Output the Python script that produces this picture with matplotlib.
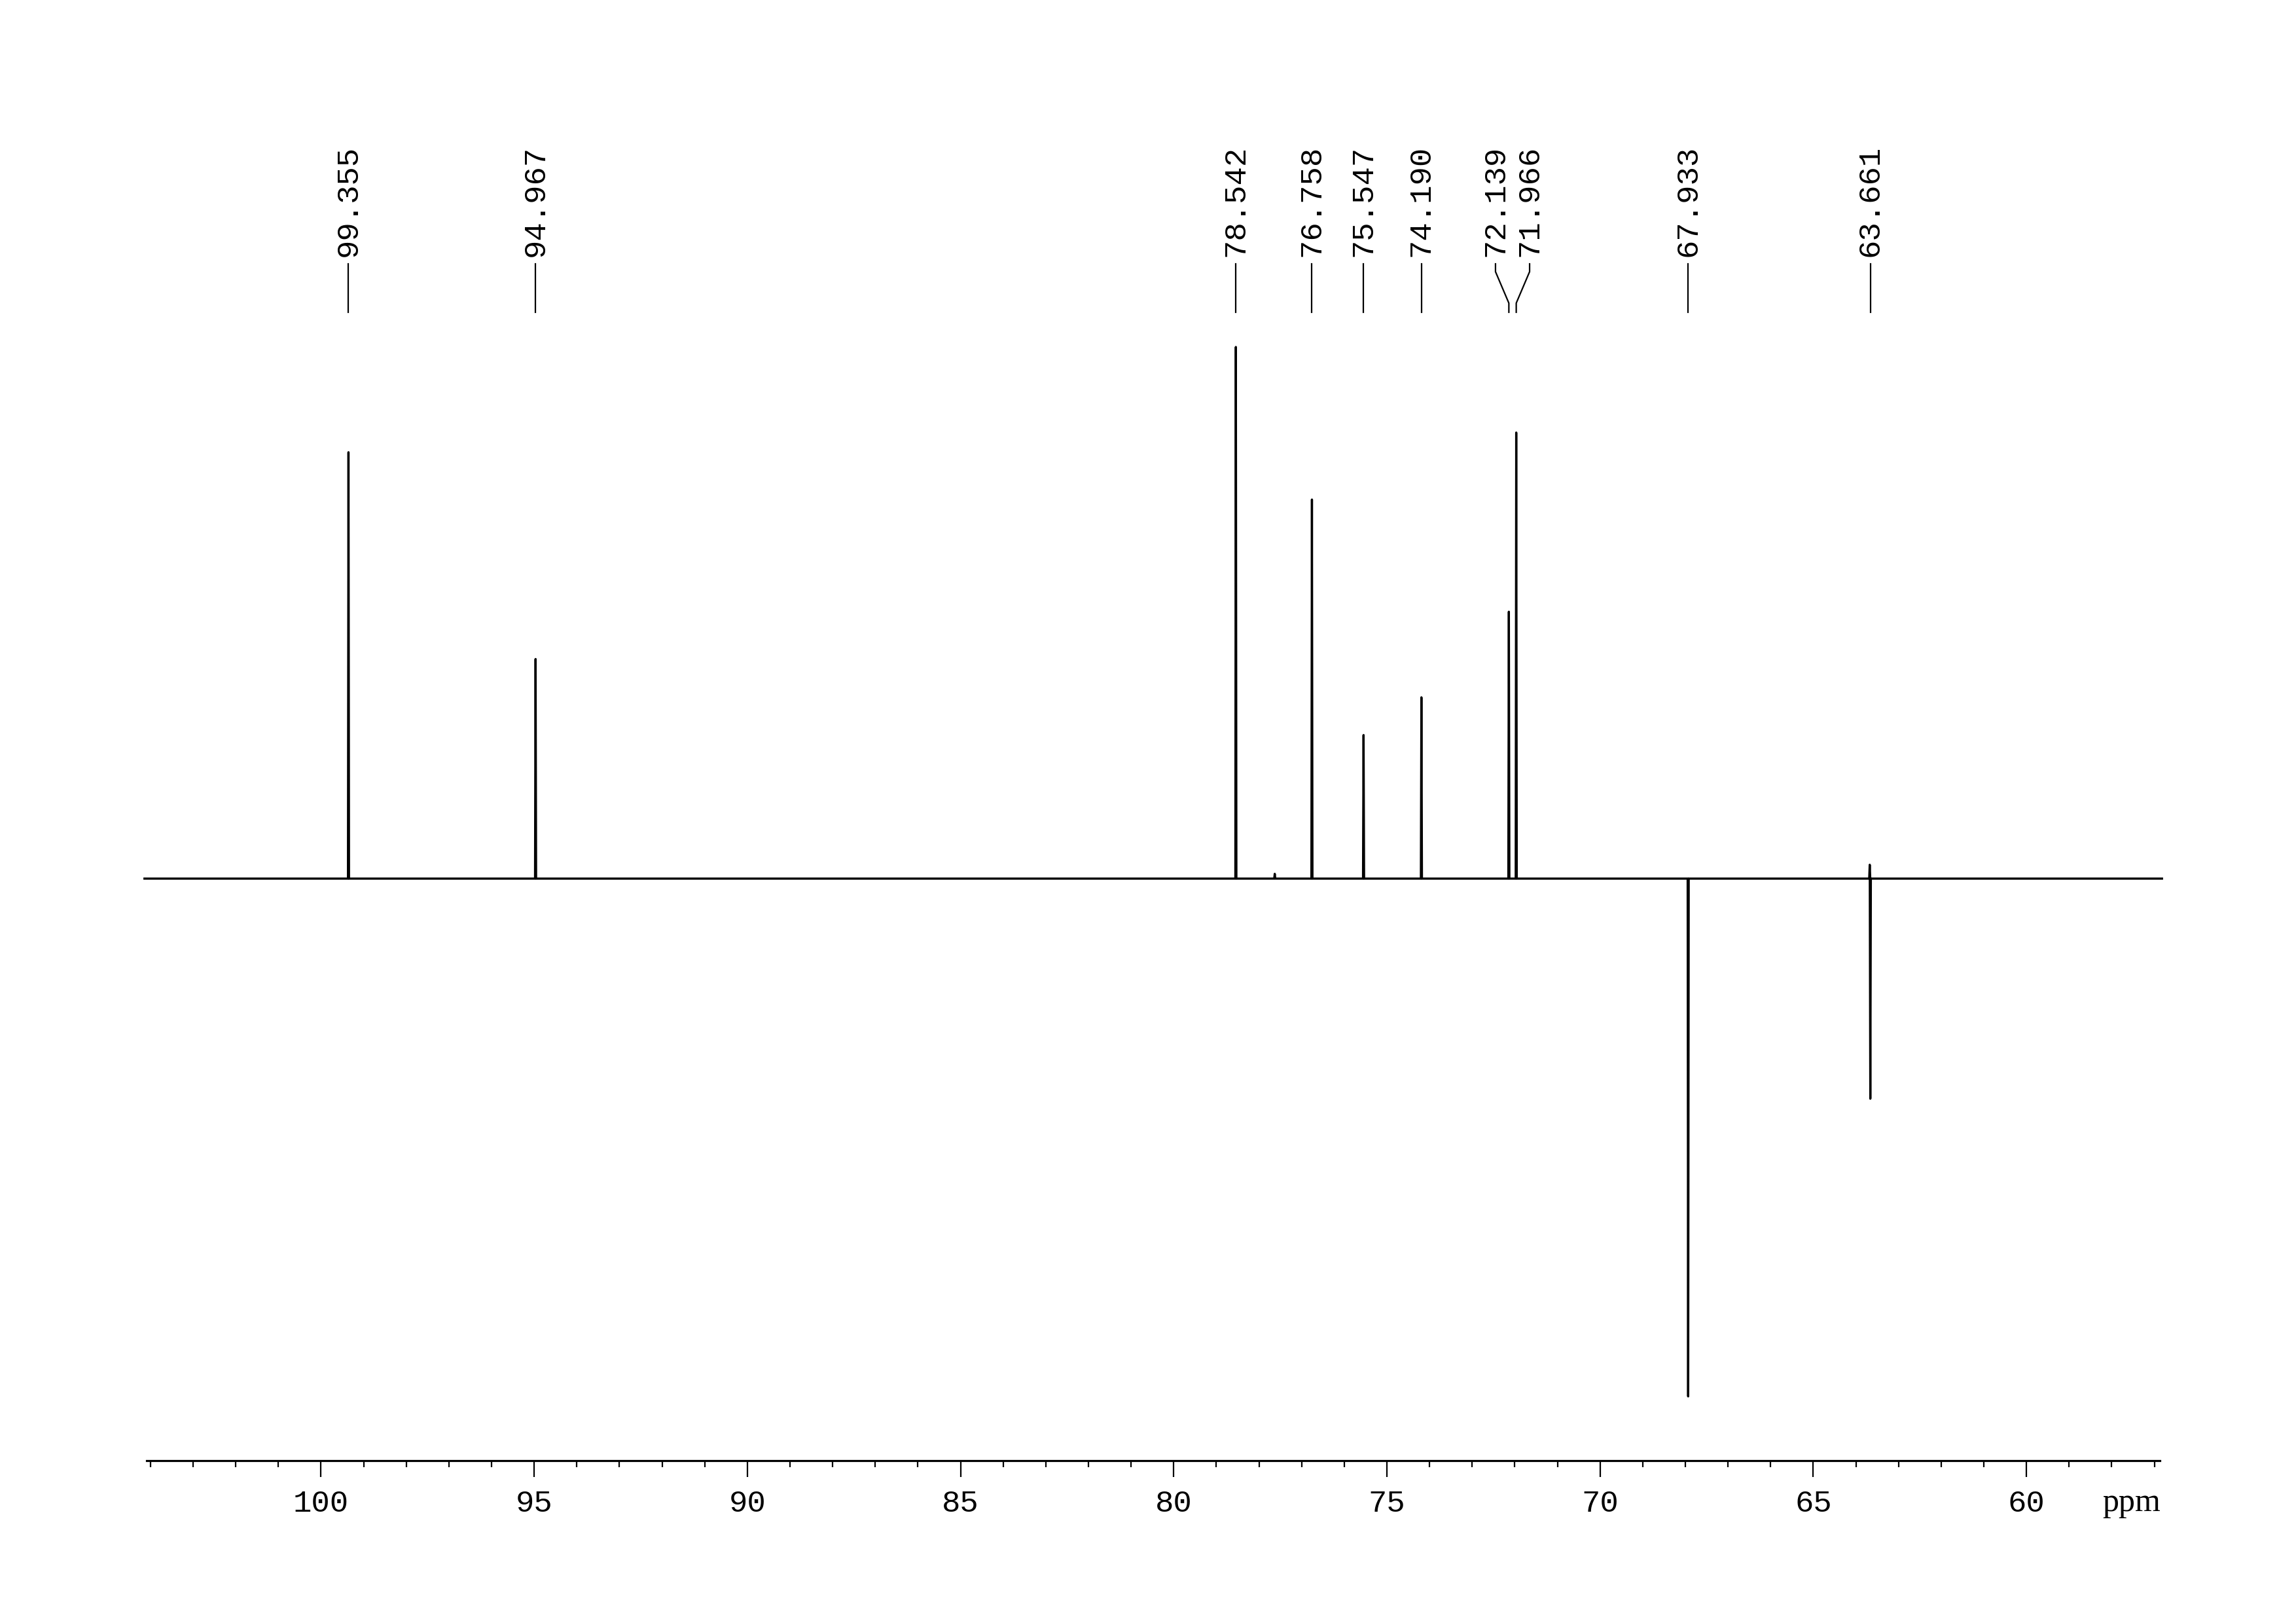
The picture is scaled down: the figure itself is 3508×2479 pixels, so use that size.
import numpy as np
import matplotlib
matplotlib.use("Agg")
import matplotlib.pyplot as plt
import matplotlib.transforms as mtransforms

# ---- data ----
peak_ppm = [99.355, 94.967, 78.542, 76.758, 75.547, 74.190, 72.139, 71.966, 67.933, 63.661]
peak_int = [80.2, 41.3, 100.0, 71.3, 27.0, 34.1, 50.2, 83.9, -97.4, -41.4]
peak_labels = ["99.355", "94.967", "78.542", "76.758", "75.547", "74.190",
               "72.139", "71.966", "67.933", "63.661"]
# small dispersive artefacts seen on the baseline
artefact_ppm = [63.675, 77.63]
artefact_int = [2.6, 0.9]

major_ticks = [100, 95, 90, 85, 80, 75, 70, 65, 60]
minor_ticks = list(range(104, 56, -1))
x_left, x_right = 104.09, 56.87

# ---- figure ----
W, H = 3508, 2479
fig = plt.figure(figsize=(W / 100, H / 100), dpi=100)
ax_left, ax_right = 224, 3300
ax_bottom, ax_top = 2231, 150
ax = fig.add_axes([ax_left / W, 1 - ax_bottom / H, (ax_right - ax_left) / W,
                   (ax_bottom - ax_top) / H])
baseline_px = 1342
px_per_unit = 8.12
ax.set_xlim(x_left, x_right)
ax.set_ylim(-(ax_bottom - baseline_px) / px_per_unit, (baseline_px - ax_top) / px_per_unit)

# build stick-like trace from the peak list
feat_x = list(peak_ppm) + list(artefact_ppm)
feat_y = list(peak_int) + list(artefact_int)
order = np.argsort(feat_x)[::-1]
w = 0.012
xs = [x_left + 0.05]
ys = [0.0]
for i in order:
    p, h = feat_x[i], feat_y[i]
    xs += [p + w, p, p - w]
    ys += [0.0, h, 0.0]
xs.append(x_right - 0.05)
ys.append(0.0)
ax.plot(xs, ys, color="black", lw=2.4, solid_joinstyle="round", clip_on=False)

# axes styling
for s in ["top", "left", "right"]:
    ax.spines[s].set_visible(False)
ax.spines["bottom"].set_linewidth(2.3)
ax.set_yticks([])
ax.set_xticks(major_ticks)
ax.set_xticks(minor_ticks, minor=True)
ax.set_xticklabels([str(t) for t in major_ticks], fontfamily="Liberation Mono", fontsize=34)
ax.tick_params(axis="x", which="major", direction="out", length=18, width=1.6, pad=14)
ax.tick_params(axis="x", which="minor", direction="out", length=7, width=1.6)

fig.text(3257 / W, 1 - 2308 / H, "ppm", fontfamily="Liberation Serif", fontsize=36,
         ha="center", va="baseline")

# peak labels with connectors
trans = mtransforms.blended_transform_factory(ax.transData, fig.transFigure)
min_sep = 0.80
lab_x = list(peak_ppm)
# spread labels that are too close
i = 0
while i < len(lab_x) - 1:
    if lab_x[i] - lab_x[i + 1] < min_sep:
        mid = (peak_ppm[i] + peak_ppm[i + 1]) / 2
        lab_x[i] = mid + min_sep / 2
        lab_x[i + 1] = mid - min_sep / 2
        i += 2
    else:
        i += 1

def fy(px):
    return 1 - px / H

for p, lx, txt in zip(peak_ppm, lab_x, peak_labels):
    ax.plot([lx, lx, p, p], [fy(403), fy(415), fy(463), fy(477)], transform=trans,
            color="black", lw=1.6, clip_on=False)
    ax.text(lx, fy(392), txt, transform=trans, rotation=90, ha="center", va="bottom",
            fontfamily="Liberation Mono", fontsize=34)

fig.savefig("out.png", dpi=100, facecolor="white")
